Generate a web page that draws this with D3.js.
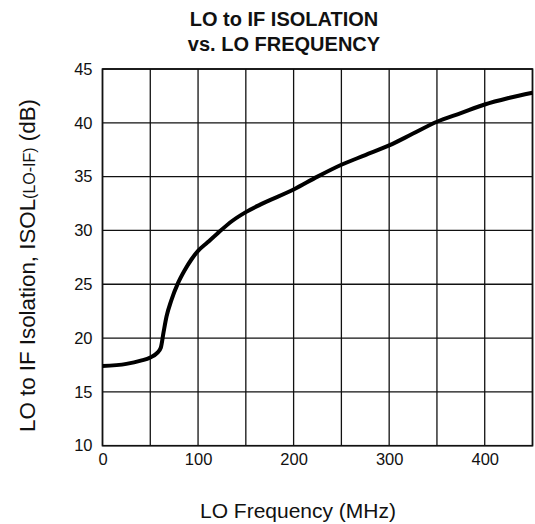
<!DOCTYPE html>
<html>
<head>
<meta charset="utf-8">
<script src="https://cdn.jsdelivr.net/npm/d3@7"></script>
<style>
  html, body { margin: 0; padding: 0; background: #fff; }
  svg { display: block; }
  text { font-family: "Liberation Sans", Arial, sans-serif; fill: #111; }
</style>
</head>
<body>
<script>
// ---- data ----
const titleLines = ["LO to IF ISOLATION", "vs. LO FREQUENCY"];
const xTitle = "LO Frequency (MHz)";
const yTitleMain = "LO to IF Isolation, ISOL";
const yTitleSub = "(LO-IF)";
const yTitleEnd = " (dB)";

const loFreq = [0, 25, 40, 50, 57, 61, 64, 67, 72, 79, 86, 93, 100, 110, 120, 136, 150, 165, 200, 225, 250, 275, 300, 325, 350, 375, 400, 425, 450];
const isolation = [17.4, 17.6, 17.9, 18.2, 18.6, 19.1, 20.6, 22.0, 23.5, 25.1, 26.3, 27.3, 28.1, 28.9, 29.7, 30.9, 31.7, 32.4, 33.8, 35.0, 36.1, 37.0, 37.9, 39.0, 40.1, 40.9, 41.7, 42.3, 42.8];

const xTickLabels = [0, 100, 200, 300, 400];
const xGrid = [0, 50, 100, 150, 200, 250, 300, 350, 400, 450];
const yTickLabels = [10, 15, 20, 25, 30, 35, 40, 45];

// ---- layout ----
const W = 535, H = 524;
const L = 102.5, R = 532.5, T = 69, B = 445.7;
const FONT = "Liberation Sans, Arial, sans-serif";

const svg = d3.select("body").append("svg").attr("width", W).attr("height", H);
svg.append("rect").attr("width", W).attr("height", H).attr("fill", "#fff");

const x = d3.scaleLinear().domain([0, 450]).range([L, R]);
const y = d3.scaleLinear().domain([10, 45]).range([B, T]);

// grid
const g = svg.append("g");
g.selectAll("line.vx").data(xGrid).enter().append("line")
  .attr("x1", d => x(d)).attr("x2", d => x(d)).attr("y1", T).attr("y2", B)
  .attr("stroke", "#111").attr("stroke-width", 1.3);
g.selectAll("line.hy").data(yTickLabels).enter().append("line")
  .attr("x1", L).attr("x2", R).attr("y1", d => y(d)).attr("y2", d => y(d))
  .attr("stroke", "#111").attr("stroke-width", 1.3);
g.append("rect").attr("x", L).attr("y", T).attr("width", R - L).attr("height", B - T)
  .attr("fill", "none").attr("stroke", "#111").attr("stroke-width", 1.6);

// axes labels via d3 axes (domain/ticks hidden)
const xAxis = svg.append("g").attr("transform", `translate(0,${B})`)
  .call(d3.axisBottom(x).tickValues(xTickLabels).tickSize(0).tickPadding(14).tickFormat(d3.format("d")));
xAxis.select(".domain").remove();
xAxis.selectAll("text").attr("font-size", 16.5).attr("font-family", FONT).attr("fill", "#111").attr("dy", "0.3em");

const yAxis = svg.append("g").attr("transform", `translate(${L},0)`)
  .call(d3.axisLeft(y).tickValues(yTickLabels).tickSize(0).tickPadding(10).tickFormat(d3.format("d")));
yAxis.select(".domain").remove();
yAxis.selectAll("text").attr("font-size", 16.5).attr("font-family", FONT).attr("fill", "#111").attr("dy", "0.32em");

// curve
const line = d3.line().x((d, i) => x(loFreq[i])).y(d => y(d)).curve(d3.curveMonotoneX);
svg.append("path").attr("d", line(isolation))
  .attr("fill", "none").attr("stroke", "#000").attr("stroke-width", 4)
  .attr("stroke-linejoin", "round").attr("stroke-linecap", "butt");

// title
svg.selectAll("text.title").data(titleLines).enter().append("text")
  .attr("class", "title")
  .attr("x", 284).attr("y", (d, i) => 26 + i * 24.7)
  .attr("text-anchor", "middle").attr("font-weight", "bold").attr("font-size", 20)
  .text(d => d);

// x title
svg.append("text").attr("x", 298).attr("y", 518)
  .attr("text-anchor", "middle").attr("font-size", 21).text(xTitle);

// y title
const yt = svg.append("text")
  .attr("transform", "translate(35,265.5) rotate(-90)")
  .attr("text-anchor", "middle").attr("font-size", 22.3);
yt.append("tspan").text(yTitleMain);
yt.append("tspan").attr("font-size", 16).text(yTitleSub);
yt.append("tspan").text(yTitleEnd);
</script>
</body>
</html>
